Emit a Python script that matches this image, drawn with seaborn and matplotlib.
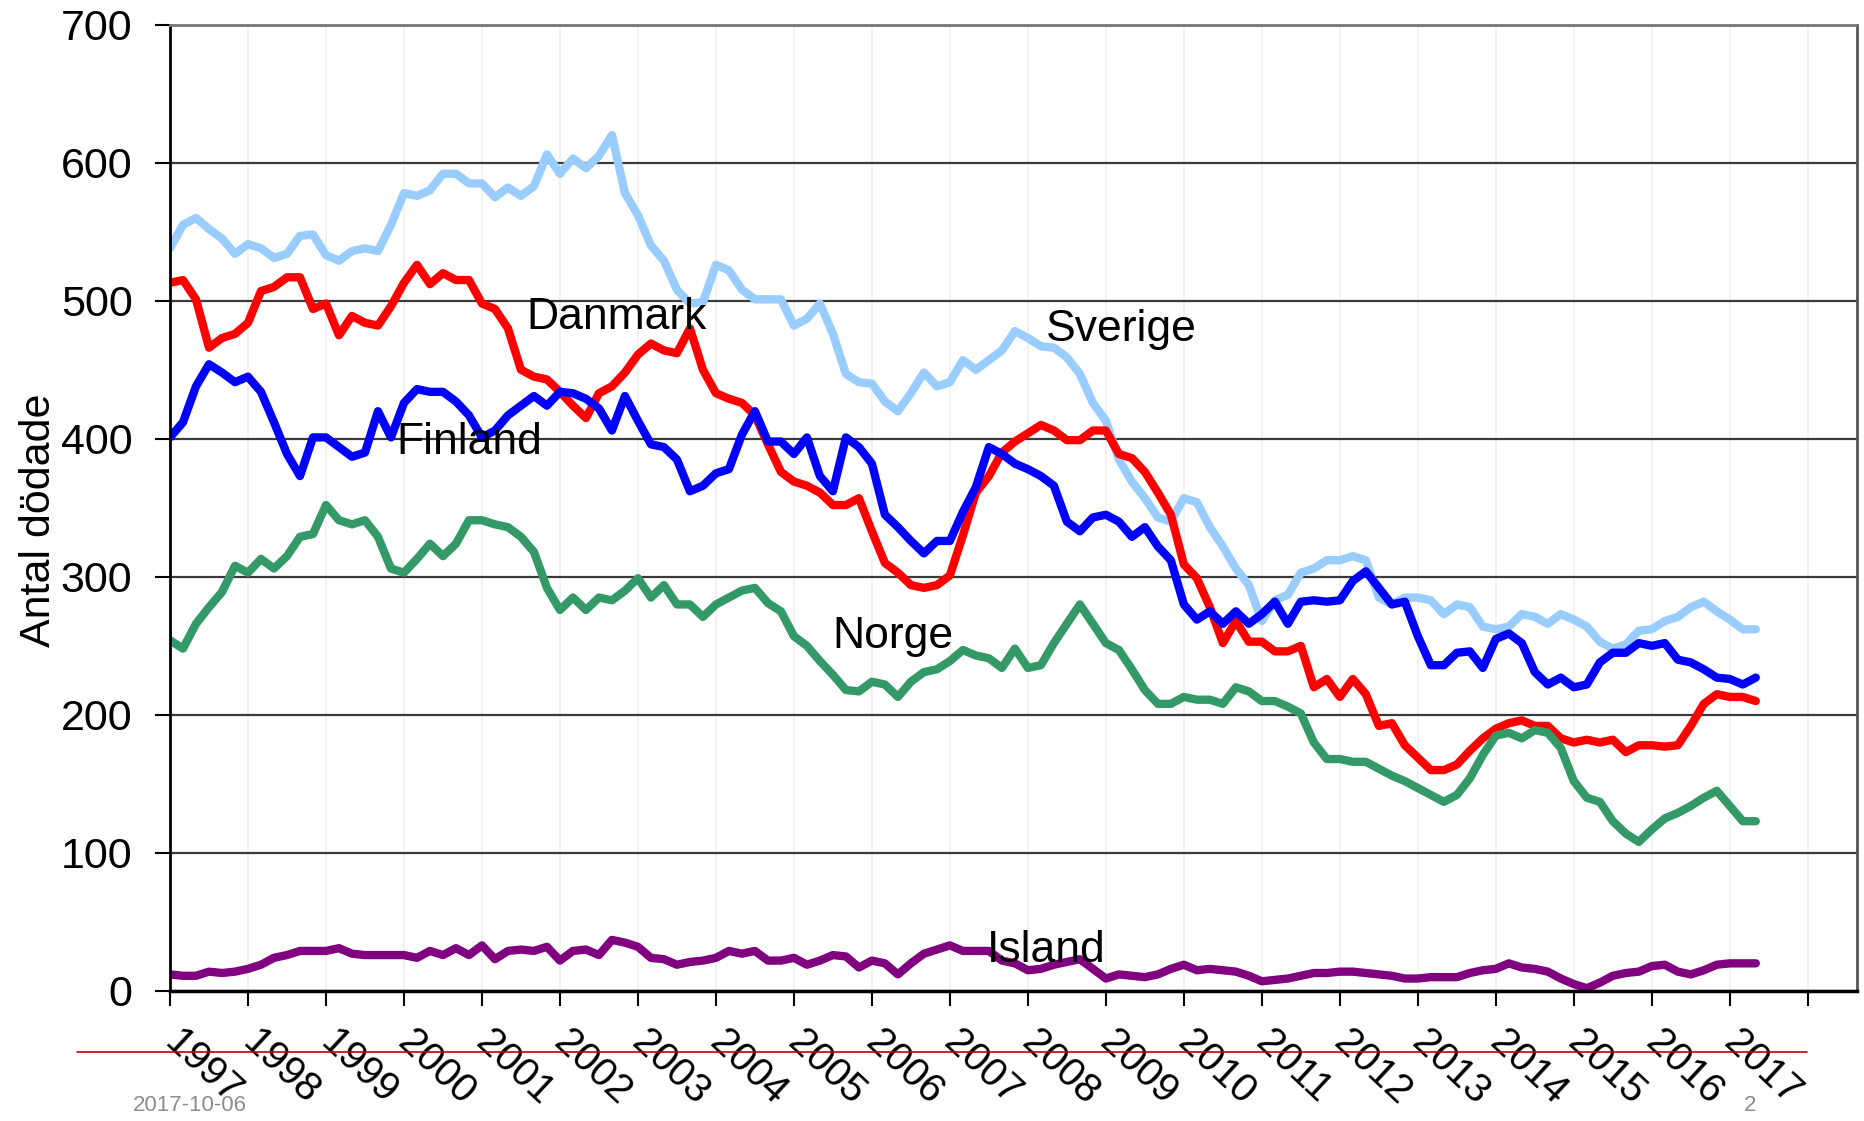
import numpy as np
import pandas as pd
import seaborn as sns
from matplotlib import pyplot as plt
from matplotlib.lines import Line2D

## DATA ##
# rullande 12-månaderssumma, avläst varannan månad (jan 1997 - maj 2017)
dates = pd.date_range("1997-01-01", "2017-05-01", freq="2MS")
years = dates.year + (dates.month - 1) / 12

countries = ["Sverige", "Danmark", "Finland", "Norge", "Island"]

sverige = [538, 555, 560, 552, 545, 534,
           541, 538, 531, 534, 547, 548,
           533, 529, 536, 538, 536, 555,
           578, 576, 580, 592, 592, 585,
           585, 575, 582, 576, 583, 606,
           592, 603, 596, 605, 620, 578,
           562, 540, 529, 508, 498, 499,
           526, 522, 508, 501, 501, 501,
           482, 487, 498, 476, 447, 441,
           440, 427, 420, 433, 448, 438,
           441, 457, 450, 457, 464, 478,
           473, 467, 466, 459, 447, 426,
           413, 385, 369, 357, 343, 340,
           357, 354, 336, 322, 306, 294,
           268, 283, 287, 303, 306, 312,
           312, 315, 312, 285, 280, 285,
           285, 283, 273, 280, 278, 264,
           262, 264, 273, 271, 266, 273,
           269, 264, 253, 248, 251, 261,
           262, 268, 271, 278, 282, 275,
           269, 262, 262]

danmark = [513, 515, 501, 466, 473, 476,
           484, 507, 510, 517, 517, 494,
           498, 475, 489, 484, 482, 496,
           513, 526, 512, 520, 515, 515,
           498, 494, 480, 450, 445, 443,
           434, 424, 415, 433, 438, 448,
           461, 469, 464, 462, 480, 450,
           433, 429, 426, 417, 396, 376,
           369, 366, 361, 352, 352, 357,
           333, 310, 303, 294, 292, 294,
           301, 330, 361, 373, 390, 398,
           404, 410, 406, 399, 399, 406,
           406, 389, 386, 376, 361, 345,
           309, 299, 278, 252, 268, 253,
           253, 246, 246, 250, 220, 226,
           213, 226, 215, 192, 194, 178,
           169, 160, 160, 164, 174, 183,
           190, 194, 196, 192, 192, 183,
           180, 182, 180, 182, 173, 178,
           178, 177, 178, 192, 208, 215,
           213, 213, 210]

finland = [401, 412, 438, 454, 448, 441,
           445, 434, 412, 389, 373, 401,
           401, 394, 387, 390, 420, 401,
           426, 436, 434, 434, 427, 417,
           401, 406, 417, 424, 431, 424,
           434, 433, 429, 422, 406, 431,
           413, 396, 394, 385, 362, 366,
           375, 378, 403, 420, 398, 398,
           389, 401, 373, 362, 401, 394,
           382, 345, 336, 326, 317, 326,
           326, 347, 365, 394, 389, 382,
           378, 373, 366, 340, 333, 343,
           345, 340, 329, 336, 322, 312,
           280, 269, 275, 266, 275, 266,
           273, 282, 266, 282, 283, 282,
           283, 297, 304, 292, 280, 282,
           257, 236, 236, 245, 246, 234,
           255, 259, 252, 231, 222, 227,
           220, 222, 238, 245, 245, 252,
           250, 252, 240, 238, 233, 227,
           226, 222, 227]

norge = [254, 248, 266, 278, 289, 308,
         303, 313, 306, 315, 329, 331,
         352, 341, 338, 341, 329, 306,
         303, 313, 324, 315, 324, 341,
         341, 338, 336, 329, 318, 292,
         276, 285, 276, 285, 283, 290,
         299, 285, 294, 280, 280, 271,
         280, 285, 290, 292, 281, 275,
         257, 250, 239, 229, 218, 217,
         224, 222, 213, 224, 231, 233,
         239, 247, 243, 241, 234, 248,
         234, 236, 252, 266, 280, 266,
         252, 247, 233, 218, 208, 208,
         213, 211, 211, 208, 220, 217,
         210, 210, 206, 201, 180, 168,
         168, 166, 166, 161, 156, 152,
         147, 142, 137, 142, 154, 171,
         185, 187, 183, 189, 187, 176,
         152, 140, 137, 123, 114, 108,
         117, 125, 129, 134, 140, 145,
         134, 123, 123]

island = [12, 11, 11, 14, 13, 14,
          16, 19, 24, 26, 29, 29,
          29, 31, 27, 26, 26, 26,
          26, 24, 29, 26, 31, 26,
          33, 23, 29, 30, 29, 32,
          22, 29, 30, 26, 37, 35,
          32, 24, 23, 19, 21, 22,
          24, 29, 27, 29, 22, 22,
          24, 19, 22, 26, 25, 17,
          22, 20, 12, 20, 27, 30,
          33, 29, 29, 29, 22, 20,
          15, 16, 19, 21, 23, 16,
          9, 12, 11, 10, 12, 16,
          19, 15, 16, 15, 14, 11,
          7, 8, 9, 11, 13, 13,
          14, 14, 13, 12, 11, 9,
          9, 10, 10, 10, 13, 15,
          16, 20, 17, 16, 14, 9,
          5, 2, 6, 11, 13, 14,
          18, 19, 14, 12, 15, 19,
          20, 20, 20]

colors = {"Sverige": "#99ccff", "Danmark": "#ff0000", "Finland": "#0000ff",
          "Norge": "#339966", "Island": "#800080"}

# textetiketter vid linjerna (år, värde)
label_pos = {"Danmark": (2001.57, 488), "Finland": (1999.9, 397),
             "Sverige": (2008.23, 479), "Norge": (2005.49, 257),
             "Island": (2007.47, 29)}

x_years = list(range(1997, 2019))
x_labels = [str(y) for y in range(1997, 2018)] + [""]

df = pd.DataFrame({
    "year": np.tile(years, len(countries)),
    "land": np.repeat(countries, len(years)),
    "dodade": np.concatenate([sverige, danmark, finland, norge, island]),
})

## PLOT ##
sns.set_style("white")
plt.rcParams['font.family'] = ['Liberation Sans', 'DejaVu Sans']
plt.rcParams['text.color'] = 'black'
plt.rcParams['xtick.color'] = 'black'
plt.rcParams['ytick.color'] = 'black'
plt.rcParams['axes.labelcolor'] = 'black'

fig = plt.figure(figsize=(18.64, 11.21), dpi=100)
ax = fig.add_axes([0.0912, 0.116, 0.905, 0.862])

sns.lineplot(data=df, x="year", y="dodade", hue="land", hue_order=countries,
             palette=colors, lw=6, errorbar=None, legend=False, ax=ax)

ax.set_xlim(1997, 2018.63)
ax.set_ylim(0, 700)
ax.set_yticks(range(0, 701, 100))
ax.set_xticks(x_years)
ax.set_xticklabels(x_labels, rotation=-43, ha="left", va="center",
                   rotation_mode="anchor", fontsize=29)
ax.tick_params(axis="x", direction="out", length=11, width=1.5, pad=22,
               bottom=True)
ax.tick_params(axis="y", direction="out", length=11, width=1.5, pad=16,
               labelsize=31, left=True)

ax.grid(axis="y", color="#3a3a3a", lw=1.6)
ax.grid(axis="x", color="#f0f0f0", lw=1.2)
ax.set_axisbelow(True)

ax.spines["left"].set_color("black")
ax.spines["left"].set_linewidth(2)
ax.spines["bottom"].set_color("black")
ax.spines["bottom"].set_linewidth(2.5)
ax.spines["top"].set_color("#777777")
ax.spines["top"].set_linewidth(2)
ax.spines["right"].set_color("#555555")
ax.spines["right"].set_linewidth(2)

ax.set_xlabel("")
ax.set_ylabel("Antal dödade", fontsize=31)
ax.yaxis.set_label_coords(-0.066, 0.487)

for name in countries:
    lx, ly = label_pos[name]
    ax.text(lx, ly, name, fontsize=32, va="center", ha="left")

# sidfot som i presentationen
fig.add_artist(Line2D([0.0413, 0.9694], [0.0616, 0.0616], color="#c00000", lw=1.2))
fig.text(0.0714, 0.0134, "2017-10-06", fontsize=16, color="#8c8c8c", va="center")
fig.text(0.9356, 0.0134, "2", fontsize=16, color="#8c8c8c", va="center")

fig.savefig("out.png", dpi=100)
plt.close('all')
